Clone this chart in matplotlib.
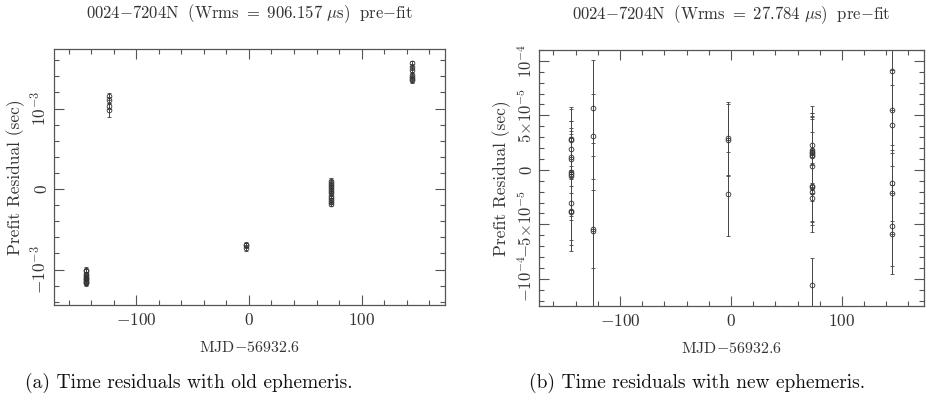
import matplotlib
matplotlib.use("Agg")
import matplotlib.pyplot as plt
from matplotlib.ticker import MultipleLocator, FixedLocator, FixedFormatter
import numpy as np

plt.rcParams['mathtext.fontset'] = 'cm'
plt.rcParams['font.family'] = 'serif'
plt.rcParams['font.serif'] = ['cmr10', 'DejaVu Serif']
plt.rcParams['axes.unicode_minus'] = False

# ---- data ----
cluster_mjd = [-144.5, -124.4, -2.7, 73.2, 145.0]
cluster_sizes = [11, 4, 3, 12, 7]

# pre-fit residuals with old ephemeris (units of 1e-3 s)
old_res_ms = [-1.00, -1.02, -1.05, -1.07, -1.09, -1.10, -1.12, -1.13, -1.15, -1.16, -1.17,
              1.15, 1.11, 1.03, 0.98,
              -0.69, -0.70, -0.73,
              0.10, 0.08, 0.05, 0.02, 0.00, -0.02, -0.05, -0.08, -0.11, -0.14, -0.16, -0.18,
              1.56, 1.52, 1.48, 1.42, 1.39, 1.37, 1.35]

# pre-fit residuals with new ephemeris (units of 1e-5 s)
new_res = [2.82, 2.70, 1.90, 1.17, 1.04, -0.2, -0.4, -0.6, -3.06, -3.74, -3.86,
           5.64, 3.06, -5.42, -5.58,
           2.88, 2.76, -2.21,
           2.30, 1.84, 1.68, 1.53, 1.38, 1.29, 0.31, -1.44, -1.59, -2.05, -2.60, -10.57,
           9.10, 5.48, 4.07, -1.23, -2.15, -5.12, -5.88]

# TOA uncertainties (units of 1e-5 s)
toa_err = [2.91, 2.9, 2.6, 3.3, 2.5, 3.5, 4.2, 3.6, 3.4, 3.7, 3.0,
           4.4, 3.9, 3.6, 8.0,
           3.35, 3.3, 3.86,
           3.52, 3.4, 3.5, 3.3, 3.6, 3.4, 3.2, 3.3, 3.5, 2.7, 3.07, 2.5,
           3.6, 3.7, 3.7, 3.5, 3.7, 3.7, 3.71]

titles = [r'$\mathrm{0024{-}7204N\ \ (Wrms\ =\ 906.157\ \mu s)\ \ pre{-}fit}$',
          r'$\mathrm{0024{-}7204N\ \ (Wrms\ =\ 27.784\ \mu s)\ \ pre{-}fit}$']
captions = ['(a) Time residuals with old ephemeris.',
            '(b) Time residuals with new ephemeris.']
xlabel = r'$\mathrm{MJD{-}56932.6}$'
ylabel = 'Prefit Residual (sec)'
xtick_vals = [-100, 0, 100]
xtick_labels = [r'$-100$', r'$0$', r'$100$']
ytick_vals_a = [-1e-3, 0, 1e-3]
ytick_labels_a = [r'$-10^{-3}$', r'$0$', r'$10^{-3}$']
ytick_vals_b = [-1e-4, -5e-5, 0, 5e-5, 1e-4]
ytick_labels_b = [r'$-10^{-4}$', r'$-5{\times}10^{-5}$', r'$0$', r'$5{\times}10^{-5}$', r'$10^{-4}$']

mjd = np.repeat(cluster_mjd, cluster_sizes)
y_old = np.array(old_res_ms) * 1e-3
y_new = np.array(new_res) * 1e-5
err = np.array(toa_err) * 1e-5

fig = plt.figure(figsize=(9.26, 4.05), dpi=100)
axA = fig.add_axes([54/926, 1-305/405, 391/926, 256/405])
axB = fig.add_axes([539/926, 1-306/405, 385/926, 256/405])

ink = '#333333'
spine = '#555555'

def style(ax, yvals, ylabels, ymin, ymax, yminor, ysize):
    ax.set_xlim(-173, 174)
    ax.set_ylim(ymin, ymax)
    ax.xaxis.set_major_locator(FixedLocator(xtick_vals))
    ax.xaxis.set_major_formatter(FixedFormatter(xtick_labels))
    ax.xaxis.set_minor_locator(MultipleLocator(20))
    ax.yaxis.set_major_locator(FixedLocator(yvals))
    ax.yaxis.set_major_formatter(FixedFormatter(ylabels))
    ax.yaxis.set_minor_locator(MultipleLocator(yminor))
    ax.tick_params(which='both', direction='in', top=True, right=True,
                   color=spine, width=0.8, labelcolor=ink, labelsize=12.5)
    ax.tick_params(axis='y', labelsize=ysize)
    ax.tick_params(which='major', length=7)
    ax.tick_params(which='minor', length=3.5)
    ax.tick_params(axis='x', pad=5)
    ax.tick_params(axis='y', pad=3)
    for lab in ax.get_yticklabels():
        lab.set_rotation(90)
        lab.set_va('center')
    for s in ax.spines.values():
        s.set_color(spine)
        s.set_linewidth(0.9)
    ax.set_xlabel(xlabel, fontsize=11.5, color=ink, labelpad=9)
    ax.set_ylabel(ylabel, fontsize=12.5, color=ink, labelpad=3)

axA.errorbar(mjd, y_old, yerr=err, fmt='o', ms=3.4, mfc='none', mec='#333333', mew=0.6,
             ecolor='#444444', elinewidth=0.7, capsize=1.6, capthick=0.7)
axB.errorbar(mjd, y_new, yerr=err, fmt='o', ms=3.4, mfc='none', mec='#333333', mew=0.6,
             ecolor='#444444', elinewidth=0.7, capsize=1.6, capthick=0.7)

style(axA, ytick_vals_a, ytick_labels_a, -1.44e-3, 1.74e-3, 2e-4, 12.5)
style(axB, ytick_vals_b, ytick_labels_b, -1.25e-4, 1.10e-4, 1e-5, 12)

axA.set_title(titles[0], fontsize=12, color=ink, pad=22)
axB.set_title(titles[1], fontsize=12, color=ink, pad=22)

fig.text(189/926, 1-383/405, captions[0], fontsize=14, ha='center', va='center', color='#111111')
fig.text(697/926, 1-383/405, captions[1], fontsize=14, ha='center', va='center', color='#111111')

fig.savefig('out.png', dpi=100)
